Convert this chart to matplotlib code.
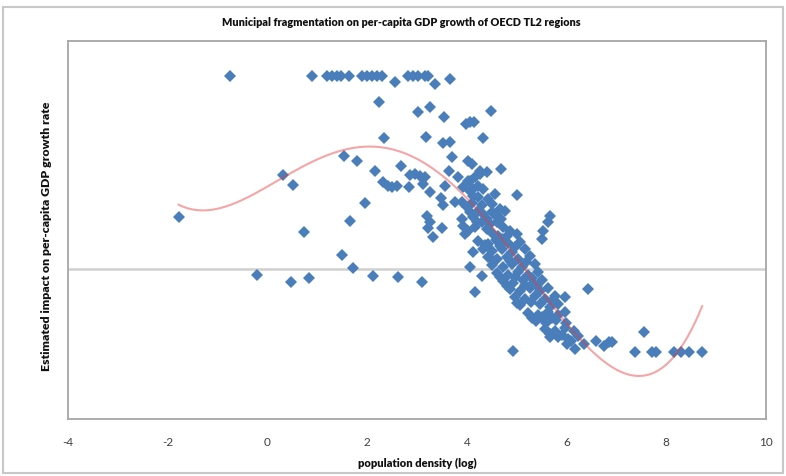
import numpy as np
import matplotlib.pyplot as plt
from matplotlib.patches import Rectangle

plt.rcParams['font.family'] = ['Lato', 'DejaVu Sans']

# population density (log) and estimated impact (arbitrary units, 0 = axis line)
dens_top = [-0.76, 0.90, 1.20, 1.30, 1.40, 1.48, 1.64, 1.90, 2.00, 2.10, 2.20, 2.30,
            2.82, 2.92, 3.02, 3.16, 3.22, 2.56, 3.36, 3.66]
impact_top = [1.93, 1.93, 1.93, 1.93, 1.93, 1.93, 1.93, 1.93, 1.93, 1.93, 1.93, 1.93,
              1.93, 1.93, 1.93, 1.93, 1.93, 1.87, 1.85, 1.90]

dens_mid = [2.24, 3.02, 3.26, 3.54, 4.48, 3.98, 4.06, 4.14, 2.34, 3.18, 3.52, 3.66,
            4.32, 3.70, 4.02, 4.10, 2.16, 2.68, 1.54, 1.80, 0.32, 0.52, 2.32, 2.42,
            2.50, 2.60, 2.86, 2.96, 3.16, 3.12, 2.84, 3.64, 3.82, 4.26, 4.40, 4.68,
            3.26, 3.56, 3.48, 3.52, 3.76, 5.00, 3.20, 3.26, 3.22, 3.32, 3.50, 5.66,
            5.62, 5.52, 5.50, 1.96, 1.66, 0.74, -1.78, 1.50, 1.72, 3.06, 3.90, 3.92,
            4.02]
impact_mid = [1.67, 1.57, 1.62, 1.52, 1.58, 1.45, 1.47, 1.47, 1.31, 1.32, 1.26, 1.27,
              1.31, 1.12, 1.08, 1.05, 0.98, 1.03, 1.13, 1.08, 0.94, 0.84, 0.87, 0.83,
              0.82, 0.83, 0.94, 0.95, 0.92, 0.85, 0.82, 0.98, 0.92, 0.98, 0.97, 1.00,
              0.77, 0.83, 0.71, 0.64, 0.67, 0.74, 0.53, 0.47, 0.41, 0.32, 0.41, 0.53,
              0.47, 0.38, 0.30, 0.66, 0.48, 0.37, 0.52, 0.14, 0.01, 0.93, 0.50, 0.43,
              0.38]

dens_low = [-0.20, 0.48, 0.84, 2.12, 2.62, 3.10, 3.96, 4.12, 4.06, 4.30, 4.16, 4.92,
            5.96, 6.42, 6.60, 6.76, 6.86, 6.92, 6.00, 6.16, 5.66, 7.56, 7.38, 7.72,
            7.80, 8.16, 8.30, 8.46, 8.72]
impact_low = [-0.06, -0.13, -0.09, -0.07, -0.08, -0.13, 0.35, 0.17, 0.02, -0.07, -0.23, -0.82,
              -0.28, -0.20, -0.72, -0.77, -0.73, -0.73, -0.75, -0.80, -0.68, -0.63, -0.83, -0.83,
              -0.83, -0.83, -0.83, -0.83, -0.83]

dens_band = [4.02, 4.16, 4.26, 4.22, 4.32, 4.12, 4.22, 4.42, 4.00, 4.06, 4.12, 4.22,
             4.32, 4.40, 4.50, 4.60, 4.66, 4.76, 4.16, 4.30, 4.40, 4.60, 4.72, 4.86,
             4.62, 4.80, 5.00, 3.92, 4.06, 4.56, 4.50, 3.90,
             4.22, 4.42, 4.58, 4.82, 5.06, 4.32, 4.50, 4.70, 4.90, 5.16,
             4.42, 4.60, 4.80, 5.02, 5.26, 4.50, 4.72, 4.90, 5.10, 5.36,
             4.60, 4.82, 5.02, 5.22, 5.42, 4.72, 4.92, 5.12, 5.32, 5.50,
             4.86, 5.06, 5.26, 5.46, 5.62, 4.96, 5.16, 5.36, 5.56, 5.76,
             5.06, 5.46, 5.66, 5.82, 5.22, 5.42, 5.62, 5.82, 5.96,
             5.38, 5.58, 5.78, 5.98, 5.56, 5.76, 5.96, 6.14, 5.82, 6.02, 6.22, 6.34,
             4.36, 4.66, 4.96, 4.54, 4.86, 5.18, 4.66, 4.96, 5.30, 4.80, 5.16, 5.40,
             5.00, 5.28, 5.70, 5.30, 5.50, 5.70, 5.66, 5.90, 6.08,
             4.10, 4.30, 4.20, 4.46, 4.68, 4.50, 4.70, 4.06, 4.12]
impact_band = [0.88, 0.92, 0.95, 0.83, 0.80, 0.73, 0.72, 0.70, 0.62, 0.57, 0.52, 0.58,
               0.55, 0.50, 0.57, 0.52, 0.60, 0.58, 0.42, 0.47, 0.40, 0.47, 0.42, 0.38,
               0.33, 0.33, 0.35, 0.82, 0.78, 0.75, 0.65, 0.67,
               0.28, 0.25, 0.29, 0.26, 0.27, 0.20, 0.18, 0.20, 0.17, 0.20,
               0.12, 0.10, 0.12, 0.10, 0.13, 0.04, 0.02, 0.05, 0.02, 0.05,
               -0.04, -0.06, -0.03, -0.06, -0.03, -0.12, -0.14, -0.11, -0.14, -0.11,
               -0.20, -0.22, -0.19, -0.22, -0.19, -0.28, -0.30, -0.27, -0.30, -0.27,
               -0.36, -0.35, -0.38, -0.35, -0.44, -0.46, -0.43, -0.46, -0.43,
               -0.52, -0.54, -0.51, -0.54, -0.60, -0.62, -0.59, -0.62, -0.68, -0.70, -0.67, -0.75,
               0.24, 0.23, 0.22, 0.08, 0.08, 0.07, -0.08, -0.08, -0.09, -0.17, -0.16, -0.17,
               -0.34, -0.33, -0.32, -0.49, -0.48, -0.49, -0.65, -0.66, -0.72,
               0.66, 0.64, 0.47, 0.45, 0.50, 0.36, 0.30, 0.88, 0.80]

x_ticks = [-4, -2, 0, 2, 4, 6, 8, 10]

x = np.array(dens_top + dens_mid + dens_low + dens_band)
y = np.array(impact_top + impact_mid + impact_low + impact_band)

fig = plt.figure(figsize=(7.86, 4.77), dpi=100)
ax = fig.add_axes([68 / 786, 1 - 420 / 477, (766 - 68) / 786, (420 - 42) / 477])

ax.axhline(0, color='#d0d0d0', lw=1.8, zorder=1)
ax.plot(x, y, linestyle='none', marker='D', markersize=6.2, color='#4a7ebb',
        markeredgewidth=0, zorder=2)

# 4th-order polynomial trendline, as in the spreadsheet
coefs = np.polyfit(x, y, 4)
xs = np.linspace(x.min(), x.max(), 300)
ax.plot(xs, np.polyval(coefs, xs), color='#e83a3a', alpha=0.45, lw=1.5, zorder=3)

ax.set_xlim(-4, 10)
ax.set_ylim(-1.5, 2.28)
ax.set_xticks(x_ticks)
ax.set_xticklabels([str(t) for t in x_ticks], fontsize=8.5, color='#404040')
ax.tick_params(axis='x', length=0, pad=12)
ax.set_yticks([])
for s in ax.spines.values():
    s.set_color('#a6a6a6')
    s.set_linewidth(1.3)

fig.text(401 / 786, 1 - 22 / 477, 'Municipal fragmentation on per-capita GDP growth of OECD TL2 regions',
         ha='center', va='center', fontsize=7.8, fontweight='heavy', color='#111111')
fig.text(417 / 786, 1 - 463 / 477, 'population density (log)', ha='center', va='center',
         fontsize=8, fontweight='heavy', color='#111111')
fig.text(47 / 786, 1 - 236 / 477, 'Estimated impact on per-capita GDP growth rate', ha='center',
         va='center', rotation=90, fontsize=8.8, fontweight='heavy', color='#111111')

fig.patches.append(Rectangle((0.004, 0.006), 0.992, 0.978, transform=fig.transFigure,
                             fill=False, edgecolor='#c8c8c8', lw=1.5))

fig.savefig('out.png', dpi=100)
plt.close(fig)
